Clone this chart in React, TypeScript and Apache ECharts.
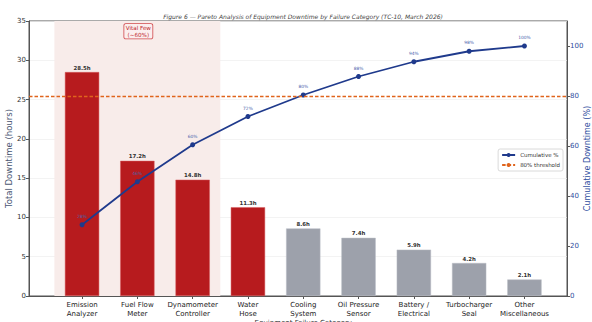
import React, { useEffect, useRef } from "react";
import * as echarts from "echarts";

const categories = [
  "Emission\nAnalyzer",
  "Fuel Flow\nMeter",
  "Dynamometer\nController",
  "Water\nHose",
  "Cooling\nSystem",
  "Oil Pressure\nSensor",
  "Battery /\nElectrical",
  "Turbocharger\nSeal",
  "Other\nMiscellaneous",
];
const downtimeHours = [28.5, 17.2, 14.8, 11.3, 8.6, 7.4, 5.9, 4.2, 2.1];
const cumulativePct = [28.5, 45.7, 60.5, 71.8, 80.4, 87.8, 93.7, 97.9, 100.0];
const cumulativeLabels = ["28%", "46%", "60%", "72%", "80%", "88%", "94%", "98%", "100%"];
const redBarCount = 4;
const vitalFewCount = 3;
const thresholdPct = 80;
const leftMax = 35;
const rightMax = 110;

const RED = "#b71b1e";
const GRAY = "#9da1ab";
const BLUE = "#1f3a8c";
const ORANGE = "#e0641c";
const FONT = "DejaVu Sans";

export default function App() {
  const ref = useRef<HTMLDivElement>(null);
  useEffect(() => {
    document.body.style.margin = "0";
    const chart = echarts.init(ref.current!, undefined, { renderer: "svg" });
    const TOP = 21;
    const BOTTOM = 26;
    chart.setOption({
      animation: false,
      textStyle: { fontFamily: FONT },
      title: {
        text: "Figure 6 — Pareto Analysis of Equipment Downtime by Failure Category (TC-10, March 2026)",
        left: 298,
        textAlign: "center",
        top: 8,
        textStyle: { fontSize: 6, fontStyle: "italic", fontWeight: "normal", color: "#444", fontFamily: FONT },
      },
      legend: {
        orient: "vertical",
        right: 29,
        top: 149,
        itemWidth: 13,
        itemHeight: 5,
        itemGap: 4,
        padding: [3, 3, 3, 3],
        borderColor: "#d0d0d0",
        borderWidth: 0.8,
        borderRadius: 2,
        backgroundColor: "#ffffff",
        textStyle: { fontSize: 5.5, color: "#333", fontFamily: FONT },
        data: ["Cumulative %", "80% threshold"],
      },
      grid: [
        {
          left: 54.4,
          right: 39.9,
          top: TOP,
          bottom: BOTTOM,
          containLabel: false,
          outerBoundsMode: "none",
        },
        {
          left: 29,
          right: 25,
          top: TOP,
          bottom: BOTTOM,
          containLabel: false,
          outerBoundsMode: "none",
          show: true,
          borderColor: "#555",
          borderWidth: 1,
          backgroundColor: "transparent",
        },
      ],
      xAxis: [
        {
          type: "category",
          gridIndex: 0,
          data: categories,
          boundaryGap: true,
          name: "Equipment Failure Category",
          nameLocation: "middle",
          nameGap: 23,
          nameMoveOverlap: false,
          nameTextStyle: { fontSize: 7, color: "#333", fontFamily: FONT },
          axisLine: { show: false },
          axisTick: { show: true, alignWithLabel: true, length: 3, lineStyle: { color: "#555" } },
          axisLabel: { fontSize: 7, color: "#222", lineHeight: 9, margin: 4, interval: 0, fontFamily: FONT },
        },
        {
          type: "value",
          gridIndex: 1,
          min: 0,
          max: 1,
          axisLine: { show: true, lineStyle: { color: "#555" } },
          axisTick: { show: false },
          axisLabel: { show: false },
          splitLine: { show: false },
        },
      ],
      yAxis: [
        { type: "value", gridIndex: 0, min: 0, max: leftMax, show: false, splitLine: { show: false } },
        { type: "value", gridIndex: 0, min: 0, max: rightMax, show: false, splitLine: { show: false } },
        {
          type: "value",
          gridIndex: 1,
          position: "left",
          min: 0,
          max: leftMax,
          interval: 5,
          name: "Total Downtime (hours)",
          nameLocation: "middle",
          nameGap: 16,
          nameMoveOverlap: false,
          nameTextStyle: { fontSize: 8.5, color: "#4a5672", fontFamily: FONT },
          axisLine: { show: true, lineStyle: { color: "#555" } },
          axisTick: { show: true, length: 3, lineStyle: { color: "#555" } },
          axisLabel: { fontSize: 7, color: "#333", margin: 3, fontFamily: FONT },
          splitLine: { show: true, lineStyle: { color: "#eeeeee", width: 0.7 } },
        },
        {
          type: "value",
          gridIndex: 1,
          position: "right",
          min: 0,
          max: rightMax,
          interval: 20,
          name: "Cumulative Downtime (%)",
          nameLocation: "middle",
          nameGap: 16,
          nameMoveOverlap: false,
          nameTextStyle: { fontSize: 8, color: "#2e4d9e", fontFamily: FONT },
          axisLine: { show: true, lineStyle: { color: "#555" } },
          axisTick: { show: true, length: 3, lineStyle: { color: "#555" } },
          axisLabel: { fontSize: 7, color: "#2e4d9e", margin: 3, showMaxLabel: false, fontFamily: FONT },
          splitLine: { show: false },
        },
      ],
      series: [
        {
          type: "custom",
          name: "vitalFew",
          xAxisIndex: 0,
          yAxisIndex: 0,
          z: 0,
          silent: true,
          data: [[0, vitalFewCount - 1]],
          renderItem: (params: any, api: any) => {
            const bw = api.size([1, 0])[0];
            const p0 = api.coord([0, leftMax]);
            const p1 = api.coord([vitalFewCount - 1, 0]);
            const x0 = p0[0] - bw / 2;
            const x1 = p1[0] + bw / 2;
            const mid = api.coord([1, leftMax]);
            return {
              type: "group",
              children: [
                {
                  type: "rect",
                  shape: { x: x0, y: p0[1], width: x1 - x0, height: p1[1] - p0[1] },
                  style: { fill: "#f8ecea" },
                },
                {
                  type: "text",
                  x: mid[0] + 1,
                  y: mid[1] + 3,
                  style: {
                    text: "Vital Few\n(~60%)",
                    fill: "#c0272d",
                    fontSize: 5.6,
                    fontFamily: FONT,
                    align: "center",
                    verticalAlign: "top",
                    lineHeight: 6.5,
                    backgroundColor: "#fbeeee",
                    borderColor: "#d0484c",
                    borderWidth: 0.8,
                    borderRadius: 1.5,
                    padding: [1, 1.5, 0.5, 1.5],
                  },
                },
              ],
            };
          },
        },
        {
          type: "bar",
          name: "Downtime",
          xAxisIndex: 0,
          yAxisIndex: 0,
          z: 2,
          barWidth: "62%",
          data: downtimeHours.map((v, i) => ({
            value: v,
            itemStyle: {
              color: i < redBarCount ? RED : GRAY,
              borderColor: i < redBarCount ? "#d65a5c" : "#b8bcc4",
              borderWidth: 0.5,
            },
          })),
          label: {
            show: true,
            position: "top",
            distance: 2,
            formatter: (p: any) => `${p.value}h`,
            fontSize: 5.4,
            fontWeight: "bold",
            color: "#333",
            fontFamily: FONT,
          },
        },
        {
          type: "line",
          name: "Cumulative %",
          xAxisIndex: 0,
          yAxisIndex: 1,
          z: 4,
          data: cumulativePct,
          symbol: "circle",
          symbolSize: 5,
          lineStyle: { color: BLUE, width: 1.8 },
          itemStyle: { color: BLUE },
          label: {
            show: true,
            position: "top",
            distance: 4,
            formatter: (p: any) => cumulativeLabels[p.dataIndex],
            fontSize: 4.4,
            color: "#4a64ad",
            fontFamily: FONT,
          },
        },
        {
          type: "line",
          name: "80% threshold",
          xAxisIndex: 1,
          yAxisIndex: 3,
          z: 3,
          data: [],
          symbol: "none",
          lineStyle: { color: ORANGE, width: 1.3, type: [3.5, 2] },
          itemStyle: { color: ORANGE },
          markLine: {
            silent: true,
            symbol: "none",
            label: { show: false },
            lineStyle: { color: ORANGE, width: 1.3, type: [3.5, 2] },
            data: [{ yAxis: thresholdPct }],
          },
        },
      ],
    });
    return () => chart.dispose();
  }, []);
  return <div ref={ref} style={{ width: 592, height: 322 }} />;
}
